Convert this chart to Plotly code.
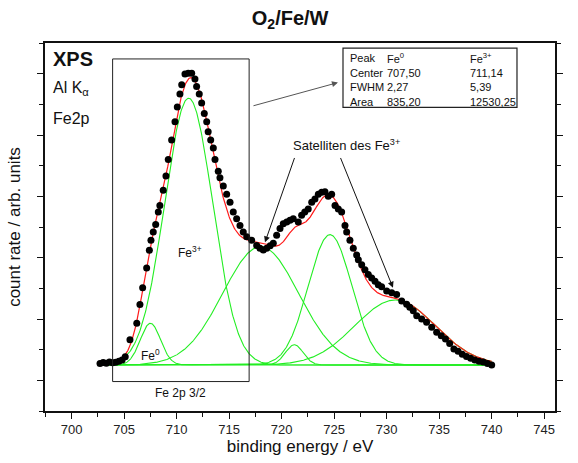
import numpy as np
import plotly.graph_objects as go

# ---- measured data (binding energy / eV, count rate / arb. units) ----
energy = [702.7, 703.0, 703.3, 703.6, 703.9, 704.2, 704.5, 704.8, 705.1, 705.55,
          706.2, 706.5, 706.76, 707.14, 707.4, 707.55, 707.77, 708.0, 708.25, 708.4,
          708.72, 708.98, 709.2, 709.52, 709.84, 710.06, 710.31, 710.48, 710.79, 711.1,
          711.43, 711.74, 711.9, 712.15, 712.38, 712.63, 712.86, 713.0, 713.24, 713.49,
          713.65, 713.96, 714.12, 714.44, 714.76, 715.08, 715.39, 715.71, 716.03, 716.34,
          716.67, 717.14, 717.62, 717.93, 718.25, 718.57, 718.9, 719.2, 719.52, 719.84,
          720.15, 720.48, 720.79, 721.1, 721.58, 721.9, 722.2, 722.53, 722.86, 723.17,
          723.49, 723.81, 724.12, 724.44, 724.76, 725.08, 725.39, 725.71, 726.03, 726.19,
          726.5, 726.82, 727.14, 727.3, 727.62, 727.93, 728.25, 728.57, 728.89, 729.2,
          729.52, 730.0, 730.48, 730.95, 731.43, 731.9, 732.2, 732.53, 732.86, 733.33,
          733.8, 734.29, 734.76, 735.2, 735.6, 736.0, 736.4, 736.8, 737.2, 737.6,
          738.0, 738.4, 738.8, 739.2, 739.6, 740.0]
counts = [1.55, 1.58, 1.56, 1.60, 1.57, 1.59, 1.62, 1.66, 1.77, 2.32,
          2.86, 3.47, 4.02, 4.66, 5.24, 5.57, 5.84, 6.08, 6.49, 6.70,
          7.20, 7.66, 8.20, 8.84, 9.43, 9.91, 10.34, 10.64, 10.99, 11.01,
          11.01, 10.83, 10.58, 10.34, 10.04, 9.70, 9.43, 9.11, 8.84, 8.58,
          8.20, 7.82, 7.61, 7.34, 7.07, 6.81, 6.49, 6.27, 6.05, 5.84,
          5.68, 5.57, 5.40, 5.31, 5.25, 5.31, 5.39, 5.47, 5.73, 5.95,
          6.11, 6.16, 6.22, 6.27, 6.16, 6.38, 6.49, 6.59, 6.81, 6.91,
          7.07, 7.13, 7.15, 7.00, 7.07, 6.70, 6.59, 6.49, 6.05, 5.84,
          5.57, 5.31, 5.09, 4.93, 4.77, 4.61, 4.45, 4.34, 4.23, 4.12,
          4.05, 3.91, 3.86, 3.80, 3.59, 3.48, 3.38, 3.27, 3.11, 3.00,
          2.89, 2.73, 2.57, 2.45, 2.35, 2.20, 2.02, 1.95, 1.85, 1.78,
          1.72, 1.66, 1.62, 1.60, 1.55, 1.50]

# ---- fit components (peak parameters) ----
peak_names = ["Fe0 2p3/2", "Fe3+ 2p3/2", "Sat 1", "Fe0 2p1/2", "Fe3+ 2p1/2", "Sat 2"]
peak_centers = [707.50, 711.14, 718.0, 721.2, 724.6, 730.8]
peak_fwhm = [2.27, 5.39, 8.5, 2.0, 4.9, 9.0]
peak_heights = [1.36, 8.70, 3.86, 0.66, 4.25, 2.12]
baseline = 1.5
fit_range = [703.0, 740.0]

# table values
table_rows = [["Peak", "Fe<sup>0</sup>", "Fe<sup>3+</sup>"],
              ["Center", "707,50", "711,14"],
              ["FWHM", "2,27", "5,39"],
              ["Area", "835,20", "12530,25"]]

FONT = "Liberation Sans, Arial, sans-serif"

xs = np.linspace(fit_range[0], fit_range[1], 800)
fig = go.Figure()
total = np.full_like(xs, baseline)
for c, w, h in zip(peak_centers, peak_fwhm, peak_heights):
    s = w / (2 * np.sqrt(2 * np.log(2)))
    g = h * np.exp(-0.5 * ((xs - c) / s) ** 2)
    total += g
    fig.add_trace(go.Scatter(x=xs, y=baseline + g, mode="lines",
                             line=dict(color="#22ee22", width=1.1),
                             showlegend=False, hoverinfo="skip"))
fig.add_trace(go.Scatter(x=xs, y=total, mode="lines",
                         line=dict(color="#ff1a1a", width=1.2), showlegend=False))
fig.add_trace(go.Scatter(x=energy, y=counts, mode="markers",
                         marker=dict(color="black", size=7), showlegend=False))

# box around Fe 2p 3/2
fig.add_shape(type="rect", x0=703.9, x1=716.9, y0=0.96, y1=11.48,
              line=dict(color="#222", width=1))
# table box
fig.add_shape(type="rect", x0=725.84, x1=742.41, y0=9.90, y1=11.83,
              line=dict(color="#222", width=1.2), fillcolor="white")

row_y = [11.51, 11.03, 10.55, 10.06]
col_x = [726.31, 729.84, 737.74]
for r, yv in zip(table_rows, row_y):
    for t, xv in zip(r, col_x):
        fig.add_annotation(x=xv, y=yv, text=t, showarrow=False, xanchor="left",
                           yanchor="middle", font=dict(size=11, color="#111", family=FONT))

def txt(x, y, t, size, anchor="left", bold=False):
    fig.add_annotation(x=x, y=y, text=f"<b>{t}</b>" if bold else t, showarrow=False,
                       xanchor=anchor, yanchor="middle",
                       font=dict(size=size, color="#111", family=FONT))

txt(698.0, 11.48, "XPS", 20, bold=True)
txt(698.0, 10.51, "Al K<sub>α</sub>", 16)
txt(698.0, 9.55, "Fe2p", 16)
txt(710.4, 0.58, "Fe 2p 3/2", 12, anchor="center")
txt(711.3, 5.19, "Fe<sup>3+</sup>", 12, anchor="center")
txt(707.46, 1.82, "Fe<sup>0</sup>", 12, anchor="center")
txt(726.2, 8.68, "Satelliten des Fe<sup>3+</sup>", 13, anchor="center")

def arrow(x0, y0, x1, y1, color="#111"):
    fig.add_annotation(x=x1, y=y1, ax=x0, ay=y0, xref="x", yref="y", axref="x", ayref="y",
                       text="", showarrow=True, arrowhead=2, arrowsize=1.2,
                       arrowwidth=1, arrowcolor=color)

arrow(721.27, 8.30, 718.41, 5.50)
arrow(725.55, 8.30, 730.6, 4.02)
arrow(717.17, 9.94, 725.36, 10.71, color="#555")

fig.update_layout(
    width=578, height=463,
    margin=dict(l=45, r=23, t=43, b=48),
    paper_bgcolor="white", plot_bgcolor="white",
    title=dict(text="<b>O<sub>2</sub>/Fe/W</b>", x=0.502, xanchor="center",
               y=0.961, yanchor="middle",
               font=dict(size=20, family=FONT, color="#111")),
    font=dict(family=FONT, color="#111"),
)
fig.update_xaxes(range=[697.46, 746.03], tickmode="linear", tick0=700, dtick=5,
                 ticks="outside", ticklen=6, tickcolor="#111", showgrid=False,
                 showline=True, linecolor="#111", linewidth=1.5, mirror=True,
                 zeroline=False, tickfont=dict(size=13, family=FONT, color="#222"),
                 minor=dict(ticks="outside", ticklen=4, dtick=2.5, tick0=700, tickcolor="#111"),
                 title=dict(text="binding energy / eV", font=dict(size=17, family=FONT), standoff=2))
fig.update_yaxes(range=[0, 12], tickmode="linear", tick0=1, dtick=2,
                 ticks="outside", ticklen=6, tickcolor="#111", showticklabels=False,
                 showgrid=False, showline=True, linecolor="#111", linewidth=1.5,
                 mirror="ticks", zeroline=False,
                 minor=dict(ticks="outside", ticklen=4, dtick=1, tick0=0, tickcolor="#111"),
                 title=dict(text="count rate / arb. units", font=dict(size=17, family=FONT), standoff=12))

fig.write_html("out.html", config={"displayModeBar": False},
               post_script="document.body.style.margin='0';")
